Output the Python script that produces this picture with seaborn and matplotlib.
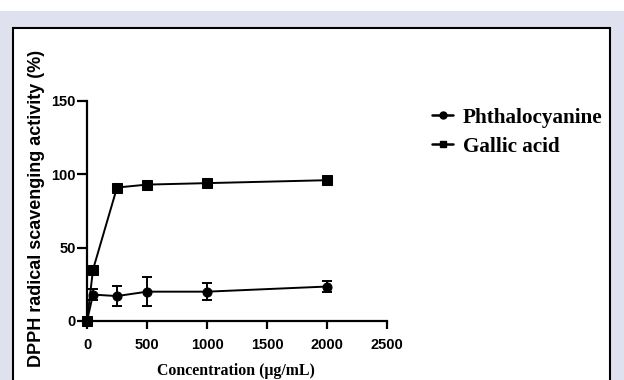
import matplotlib
matplotlib.use("Agg")
import matplotlib.pyplot as plt
from matplotlib.patches import Rectangle
from matplotlib.lines import Line2D
import seaborn as sns
import pandas as pd

conc = [0, 50, 250, 500, 1000, 2000]
phthalo = [0, 18, 17, 20, 20, 23.5]
phthalo_err = [0, 4, 7, 10, 6, 3.5]
gallic = [0, 35, 91, 93, 94, 96]
gallic_err = [0, 1, 1, 1, 1, 1]
series_names = ["Phthalocyanine", "Gallic acid"]
xticks = [0, 500, 1000, 1500, 2000, 2500]
yticks = [0, 50, 100, 150]

sns.set_theme(style="ticks")
W, H = 624, 380
fig = plt.figure(figsize=(W / 100, H / 100), dpi=100, facecolor="white")

# background panels
fig.patches.append(Rectangle((0, 0), 1, (H - 11) / H, transform=fig.transFigure,
                             facecolor="#dfe1ef", edgecolor="none", zorder=-3))
fig.patches.append(Rectangle((12.5 / W, -0.05), (610 - 12.5) / W, (H - 28) / H + 0.05,
                             transform=fig.transFigure, facecolor="white",
                             edgecolor="black", linewidth=1.5, zorder=-2))

ax = fig.add_axes([87 / W, (H - 321) / H, (387 - 87) / W, (321 - 101) / H])
ax.patch.set_alpha(0)

df = pd.DataFrame({
    "conc": conc * 2,
    "val": phthalo + gallic,
    "series": [series_names[0]] * len(conc) + [series_names[1]] * len(conc),
})
sns.lineplot(data=df, x="conc", y="val", hue="series", style="series",
             markers={"Phthalocyanine": "o", "Gallic acid": "s"}, dashes=False,
             palette={"Phthalocyanine": "black", "Gallic acid": "black"},
             markersize=6.5, linewidth=1.4, markeredgecolor="black",
             legend=False, ax=ax, clip_on=False, zorder=3)
ax.errorbar(conc, phthalo, yerr=phthalo_err, fmt="none", ecolor="black",
            elinewidth=1.4, capsize=3.5, capthick=1.4, clip_on=False, zorder=2)
ax.errorbar(conc, gallic, yerr=gallic_err, fmt="none", ecolor="black",
            elinewidth=1.4, capsize=3.5, capthick=1.4, clip_on=False, zorder=2)
ax.set_xlabel("")
ax.set_ylabel("")

ax.set_xlim(0, 2500)
ax.set_ylim(0, 150)
ax.set_xticks(xticks)
ax.set_yticks(yticks)
for s in ["top", "right"]:
    ax.spines[s].set_visible(False)
for s in ["left", "bottom"]:
    ax.spines[s].set_linewidth(1.6)
    ax.spines[s].set_color("black")
ax.tick_params(axis="y", length=7, width=1.6, color="black", labelsize=10.5,
               pad=1, labelcolor="black")
ax.tick_params(axis="x", length=5.5, width=1.6, color="black", labelsize=10.5,
               pad=7, labelcolor="black")
for lab in ax.get_xticklabels() + ax.get_yticklabels():
    lab.set_fontfamily("Liberation Sans")
    lab.set_fontweight("bold")

renderer = fig.canvas.get_renderer()

def fit(textobj, target_px, horizontal=True):
    bb = textobj.get_window_extent(renderer)
    cur = bb.width if horizontal else bb.height
    textobj.set_fontsize(textobj.get_fontsize() * target_px / cur)

xl = fig.text(236 / W, 1 - 371 / H, "Concentration (μg/mL)", ha="center", va="center",
              fontfamily="Liberation Serif", fontweight="bold", fontsize=11, color="black")
fit(xl, 158)
yl = fig.text(37 / W, 1 - 208 / H, "DPPH radical scavenging activity (%)", ha="center",
              va="center", rotation=90, fontfamily="Liberation Sans", fontweight="bold",
              fontsize=11, color="black")
fit(yl, 317, horizontal=False)

# legend
rows = [115, 144]
marks = ["o", "s"]
for name, yy, mk in zip(series_names, rows, marks):
    fy = 1 - yy / H
    fig.add_artist(Line2D([432 / W, 453 / W], [fy, fy], transform=fig.transFigure,
                          color="black", linewidth=1.8))
    fig.add_artist(Line2D([442.5 / W], [fy], transform=fig.transFigure, color="black",
                          marker=mk, markersize=5, linestyle="none"))
    t = fig.text(463 / W, fy, name, ha="left", va="center_baseline",
                 fontfamily="Liberation Serif", fontweight="bold", fontsize=14,
                 color="black")
    if name == series_names[0]:
        fit(t, 140)
        legend_fs = t.get_fontsize()
    else:
        t.set_fontsize(legend_fs)

fig.savefig("out.png", dpi=100, facecolor="white")
